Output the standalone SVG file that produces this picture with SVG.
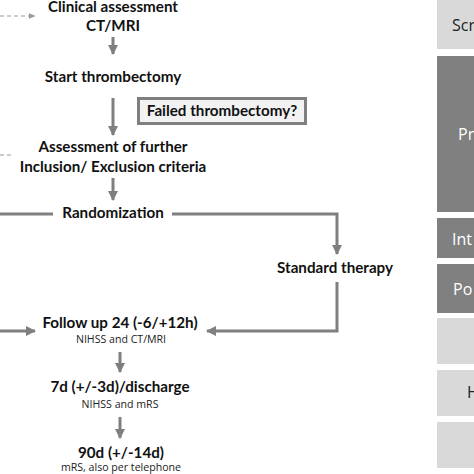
<svg xmlns="http://www.w3.org/2000/svg" width="474" height="474" viewBox="0 0 474 474">
<style>
.h{font-family:Lato,"Liberation Sans",sans-serif;font-weight:bold;font-size:15.2px;fill:#111;text-anchor:middle}
.s{font-family:"Open Sans","Liberation Sans",sans-serif;font-size:10.6px;fill:#222;text-anchor:middle}
.side{font-family:"Open Sans","Liberation Sans",sans-serif;font-size:16px}
.ln{stroke:#7f7f7f;stroke-width:3;fill:none}
.dash{stroke:#9a9a9a;stroke-width:1.2;fill:none;stroke-dasharray:4 3}
</style>
<defs>
<marker id="ah" viewBox="0 0 10 10" refX="9" refY="5" markerWidth="3.4" markerHeight="3.4" orient="auto" markerUnits="strokeWidth">
<path d="M0,0 L10,5 L0,10 z" fill="#7f7f7f"/>
</marker>
<marker id="ahd" viewBox="0 0 10 10" refX="9" refY="5" markerWidth="6" markerHeight="6" orient="auto" markerUnits="strokeWidth">
<path d="M0,1 L10,5 L0,9 z" fill="#9a9a9a"/>
</marker>
</defs>
<rect width="474" height="474" fill="#fff"/>
<g id="phases">
<rect x="437" y="0" width="40" height="49" fill="#d9d9d9"/>
<text class="side" x="452" y="31" fill="#222">Scr</text>
<rect x="437" y="56" width="40" height="156" fill="#808080"/>
<text class="side" x="458" y="140" fill="#fff">Pr</text>
<rect x="437" y="218" width="40" height="40" fill="#808080"/>
<text class="side" x="452" y="245" fill="#fff">Int</text>
<rect x="437" y="264" width="40" height="49" fill="#808080"/>
<text class="side" x="453" y="295" fill="#fff">Po</text>
<rect x="437" y="318" width="40" height="46" fill="#d9d9d9"/>
<rect x="437" y="370" width="40" height="46" fill="#d9d9d9"/>
<text class="side" x="467" y="398" fill="#222">H</text>
<rect x="437" y="422" width="40" height="46" fill="#d9d9d9"/>
</g>
<g id="connectors">
<line class="dash" x1="0" y1="16" x2="35" y2="16" marker-end="url(#ahd)"/>
<line class="dash" x1="0" y1="155" x2="11" y2="155"/>
<line class="ln" x1="113" y1="37" x2="113" y2="54" marker-end="url(#ah)"/>
<line class="ln" x1="113" y1="98" x2="113" y2="135" marker-end="url(#ah)"/>
<line class="ln" x1="113" y1="178" x2="113" y2="200" marker-end="url(#ah)"/>
<line class="ln" x1="0" y1="214" x2="53" y2="214"/>
<polyline class="ln" points="172,214 337,214 337,254" marker-end="url(#ah)"/>
<polyline class="ln" points="337,282 337,331 207,331" marker-end="url(#ah)"/>
<line class="ln" x1="0" y1="331" x2="35" y2="331" marker-end="url(#ah)"/>
<line class="ln" x1="120" y1="352" x2="120" y2="372" marker-end="url(#ah)"/>
<line class="ln" x1="120" y1="417" x2="120" y2="438" marker-end="url(#ah)"/>
</g>
<g id="clinical"><text class="h" x="113" y="12">Clinical assessment</text><text class="h" x="113" y="31">CT/MRI</text></g>
<g id="start"><text class="h" x="113" y="82">Start thrombectomy</text></g>
<g id="failed">
<rect x="138.5" y="98.5" width="167" height="25" fill="#f2f2f2" stroke="#7f7f7f" stroke-width="3"/>
<text class="h" x="222" y="116">Failed thrombectomy?</text>
</g>
<g id="further"><text class="h" x="113" y="152">Assessment of further</text><text class="h" x="113" y="172">Inclusion/ Exclusion criteria</text></g>
<g id="random"><text class="h" x="113" y="218">Randomization</text></g>
<g id="standard"><text class="h" x="335" y="273">Standard therapy</text></g>
<g id="fu24"><text class="h" x="120" y="328">Follow up 24 (-6/+12h)</text><text class="s" x="121" y="343">NIHSS and CT/MRI</text></g>
<g id="fu7"><text class="h" x="120" y="392">7d (+/-3d)/discharge</text><text class="s" x="120" y="408">NIHSS and mRS</text></g>
<g id="fu90"><text class="h" x="121" y="458">90d (+/-14d)</text><text class="s" x="121" y="471">mRS, also per telephone</text></g>
</svg>
